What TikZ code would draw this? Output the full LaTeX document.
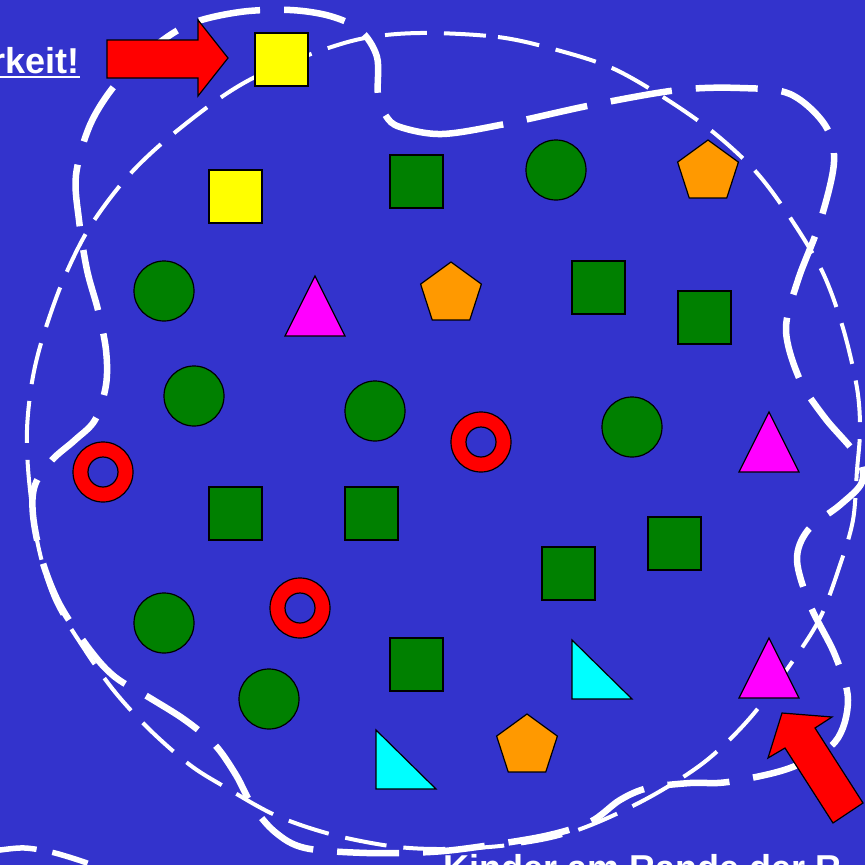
\documentclass[tikz,border=0pt]{standalone}
\usepackage{fontspec}
\setmainfont{Liberation Sans}
\usetikzlibrary{calc}
\definecolor{bgblue}{RGB}{51,51,204}
\definecolor{sgreen}{RGB}{0,128,0}
\definecolor{syellow}{RGB}{255,255,0}
\definecolor{sorange}{RGB}{255,153,0}
\definecolor{smagenta}{RGB}{255,0,255}
\definecolor{scyan}{RGB}{0,255,255}
\definecolor{sred}{RGB}{255,0,0}
\tikzset{
  shapeline/.style={draw=black, line width=1.2pt, line join=miter},
  thickdash/.style={draw=white, line width=6.5pt, dash pattern=on 62pt off 24pt},
  thindash/.style={draw=white, line width=4pt, dash pattern=on 42pt off 17pt},
  txt/.style={text=white, font=\bfseries\fontsize{36}{40}\selectfont, inner sep=0pt},
  sq/.pic={\filldraw[shapeline] (0,0) rectangle (53,53);},
  pent/.pic={\filldraw[shapeline, fill=sorange] (0,-32)--(30.4,-9.9)--(18.8,25.9)--(-18.8,25.9)--(-30.4,-9.9)--cycle;},
  tri/.pic={\filldraw[shapeline, fill=smagenta] (0,0)--(30,60)--(-30,60)--cycle;},
  rtri/.pic={\filldraw[shapeline, fill=scyan] (0,0)--(0,59)--(60,59)--cycle;},
  ring/.pic={\filldraw[shapeline, fill=sred, even odd rule] (0,0) circle (30) (0,0) circle (15);},
  gcirc/.pic={\filldraw[shapeline, fill=sgreen] (0,0) circle (30);}
}
\begin{document}
\begin{tikzpicture}[x=1pt,y=-1pt]
\useasboundingbox (0,0) rectangle (865,865);
\fill[bgblue] (0,0) rectangle (865,865);
\begin{scope}
\clip (0,0) rectangle (865,865);
% thin dashed curve
\draw[thindash] plot[smooth cycle, tension=0.55] coordinates {
 (420,33) (498,37) (557,50) (612,68) (663,97) (713,132) (757,173) (793,222)
 (823,273) (843,328) (857,388) (860,430) (857,470) (853,520) (840,565)
 (820,618) (790,665) (750,718) (707,760) (657,793) (603,820) (555,837)
 (500,846) (440,849) (390,846) (330,834) (275,815) (225,787) (190,765)
 (150,730) (115,692) (85,650) (55,600) (38,545) (29,480) (27,430) (32,382)
 (42,340) (62,283) (88,230) (123,182) (160,145) (213,103) (253,78) (300,58)
 (360,39)};
% thick dashed curve
\draw[thickdash] plot[smooth cycle, tension=0.55] coordinates {
 (400,127) (442,134) (505,124) (592,105) (678,90) (740,88) (790,94) (825,125)
 (834,162) (820,222) (798,280) (786,330) (800,380) (825,418) (857,456)
 (862,482) (840,505) (808,530) (797,560) (810,605) (835,655) (848,700)
 (835,742) (790,768) (728,782) (690,783) (648,788) (620,800) (590,822)
 (545,836) (477,847) (430,852) (367,853) (305,848) (275,832) (252,805)
 (236,775) (215,745) (185,720) (150,698) (115,677) (90,650) (60,605)
 (42,560) (33,515) (35,485) (52,460) (75,440) (95,420) (106,385) (106,350)
 (98,310) (87,270) (79,220) (76,175) (90,125) (115,85) (150,50) (190,24)
 (240,12) (290,10) (330,16) (360,30) (377,57) (378,95) (386,116)};
% partial arc bottom left
\draw[draw=white, line width=5.5pt, dash pattern=on 37pt off 16pt, dash phase=33pt]
  plot[smooth] coordinates {(-20,853) (0,850) (25,848) (55,853) (95,866) (120,880)};
% yellow squares
\pic[fill=syellow] at (255,33) {sq};
\pic[fill=syellow] at (209,170) {sq};
% green squares
\foreach \p in {(390,155),(572,261),(678,291),(209,487),(345,487),(542,547),(648,517),(390,638)}
  \pic[fill=sgreen] at \p {sq};
% green circles
\foreach \p in {(556,170),(164,291),(194,396),(375,411),(632,427),(164,623),(269,699)}
  \pic at \p {gcirc};
% rings
\foreach \p in {(103,472),(481,442),(300,608)}
  \pic at \p {ring};
% pentagons
\foreach \p in {(708,172),(451,294),(527,746)}
  \pic at \p {pent};
% magenta triangles
\foreach \p in {(315,276),(769,412),(769,638)}
  \pic at \p {tri};
% cyan right triangles
\foreach \p in {(572,640),(376,730)}
  \pic at \p {rtri};
% arrows
\filldraw[shapeline, fill=sred] (107,40) -- (198,40) -- (198,20) -- (228,58) -- (198,96) -- (198,78) -- (107,78) -- cycle;
\filldraw[shapeline, fill=sred] (782,713) -- (832,717) -- (815,728) -- (863,803) -- (833,823) -- (785,748) -- (768,758) -- cycle;
% texts
\node[txt, anchor=base east] (t1) at (80,73) {rkeit!};
\draw[white, line width=2.2pt] ($(t1.base west)+(0,4)$) -- ($(t1.base east)+(0,4)$);
\node[txt, anchor=base west] (t2) at (443,880) {Kinder am Rande der R};
\end{scope}
\end{tikzpicture}
\end{document}
